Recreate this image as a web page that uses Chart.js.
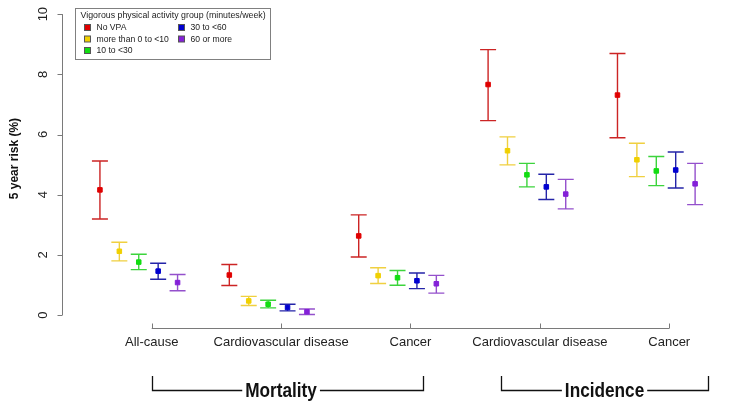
<!DOCTYPE html>
<html>
<head>
<meta charset="utf-8">
<script src="https://cdn.jsdelivr.net/npm/chart.js@4.4.1/dist/chart.umd.min.js"></script>
<style>
  html, body { margin: 0; padding: 0; background: #fff; }
  #wrap { width: 735px; height: 406px; }
</style>
</head>
<body>
<div id="wrap"><canvas id="risk-chart" width="735" height="406"></canvas></div>
<script>
// outcomes along the x axis
const outcomes = ['All-cause', 'Cardiovascular disease', 'Cancer', 'Cardiovascular disease', 'Cancer'];
const outcomeGroups = ['Mortality', 'Incidence'];
const groupLabels = ['No VPA', 'more than 0 to <10', '10 to <30', '30 to <60', '60 or more'];
const yTicks = [0, 2, 4, 6, 8, 10];

// 5 year risk (%) per activity group, one value per outcome
const noVpaRisk = [4.16, 1.33, 2.63, 7.66, 7.31];
const noVpaLower = [3.19, 0.98, 1.93, 6.46, 5.89];
const noVpaUpper = [5.12, 1.68, 3.33, 8.82, 8.69];

const under10Risk = [2.12, 0.47, 1.31, 5.46, 5.16];
const under10Lower = [1.80, 0.32, 1.05, 4.99, 4.60];
const under10Upper = [2.42, 0.62, 1.57, 5.92, 5.71];

const from10to30Risk = [1.76, 0.36, 1.24, 4.66, 4.79];
const from10to30Lower = [1.51, 0.24, 0.99, 4.26, 4.30];
const from10to30Upper = [2.02, 0.49, 1.48, 5.04, 5.27];

const from30to60Risk = [1.46, 0.25, 1.14, 4.26, 4.82];
const from30to60Lower = [1.19, 0.14, 0.88, 3.84, 4.22];
const from30to60Upper = [1.72, 0.36, 1.40, 4.68, 5.42];

const over60Risk = [1.08, 0.11, 1.04, 4.02, 4.36];
const over60Lower = [0.81, 0.02, 0.73, 3.53, 3.67];
const over60Upper = [1.35, 0.20, 1.32, 4.51, 5.04];

const riskSeries = [noVpaRisk, under10Risk, from10to30Risk, from30to60Risk, over60Risk];
const lowerSeries = [noVpaLower, under10Lower, from10to30Lower, from30to60Lower, over60Lower];
const upperSeries = [noVpaUpper, under10Upper, from10to30Upper, from30to60Upper, over60Upper];

// point colour, whisker colour
const pointColors = ['#e00000', '#f0d000', '#12dd12', '#0000d0', '#8420d8'];
const whiskerColors = ['#cc2424', '#f0d040', '#3cd43c', '#2424a8', '#9450cc'];

const FONT = '"Liberation Sans", Arial, sans-serif';

// each group sits a little left of the outcome tick, spread out
function xPos(outcomeIdx, groupIdx) {
    return outcomeIdx + 1 - 0.1 + (groupIdx - 2) * 0.15;
}

const datasets = riskSeries.map((vals, g) => ({
    label: groupLabels[g],
    data: vals.map((v, i) => ({ x: xPos(i, g), y: v, lo: lowerSeries[g][i], hi: upperSeries[g][i] })),
    backgroundColor: pointColors[g],
    borderColor: pointColors[g],
    borderWidth: 1,
    pointStyle: 'rect',
    pointRadius: 3.2,
    pointHoverRadius: 3.2,
    showLine: false
}));

// whiskers with caps, drawn under the points
const errorBars = {
    id: 'errorBars',
    beforeDatasetsDraw(chart) {
        const ctx = chart.ctx;
        const xs = chart.scales.x, ys = chart.scales.y;
        ctx.save();
        ctx.lineWidth = 1.4;
        chart.data.datasets.forEach((ds, g) => {
            ctx.strokeStyle = whiskerColors[g];
            ds.data.forEach(p => {
                const px = xs.getPixelForValue(p.x);
                const top = ys.getPixelForValue(p.hi);
                const bot = ys.getPixelForValue(p.lo);
                ctx.beginPath();
                ctx.moveTo(px, top); ctx.lineTo(px, bot);
                ctx.moveTo(px - 8, top); ctx.lineTo(px + 8, top);
                ctx.moveTo(px - 8, bot); ctx.lineTo(px + 8, bot);
                ctx.stroke();
            });
        });
        ctx.restore();
    }
};

// R style axes, outcome brackets and legend box
const baseAxes = {
    id: 'baseAxes',
    afterDraw(chart) {
        const ctx = chart.ctx;
        const xs = chart.scales.x, ys = chart.scales.y;
        const area = chart.chartArea;
        ctx.save();

        // y axis
        ctx.strokeStyle = '#7a7a7a';
        ctx.lineWidth = 1;
        const ax = Math.round(area.left) + 0.5;
        ctx.beginPath();
        ctx.moveTo(ax, ys.getPixelForValue(yTicks[0]));
        ctx.lineTo(ax, ys.getPixelForValue(yTicks[yTicks.length - 1]));
        yTicks.forEach(t => {
            const py = Math.round(ys.getPixelForValue(t)) + 0.5;
            ctx.moveTo(ax, py); ctx.lineTo(ax - 5, py);
        });
        ctx.stroke();
        ctx.fillStyle = '#222';
        ctx.font = '13px ' + FONT;
        ctx.textAlign = 'center';
        ctx.textBaseline = 'middle';
        yTicks.forEach(t => {
            ctx.save();
            ctx.translate(ax - 19, ys.getPixelForValue(t));
            ctx.rotate(-Math.PI / 2);
            ctx.fillText(String(t), 0, 0);
            ctx.restore();
        });
        ctx.save();
        ctx.translate(15, ys.getPixelForValue(5.2));
        ctx.rotate(-Math.PI / 2);
        ctx.font = 'bold 12px ' + FONT;
        ctx.fillStyle = '#111';
        ctx.fillText('5 year risk (%)', 0, 0);
        ctx.restore();

        // x axis
        const ay = Math.round(area.bottom) + 0.5;
        ctx.beginPath();
        ctx.moveTo(xs.getPixelForValue(1), ay);
        ctx.lineTo(xs.getPixelForValue(outcomes.length), ay);
        outcomes.forEach((o, i) => {
            const px = Math.round(xs.getPixelForValue(i + 1)) + 0.5;
            ctx.moveTo(px, ay); ctx.lineTo(px, ay - 5);
        });
        ctx.stroke();
        ctx.font = '13px ' + FONT;
        outcomes.forEach((o, i) => {
            ctx.fillText(o, xs.getPixelForValue(i + 1), ay + 14);
        });

        // brackets under the outcome labels (text squeezed a bit, like a narrow face)
        const spans = [[1, 3.1, 2.0], [3.7, 5.3, 4.5]];
        const squeeze = 0.86;
        ctx.strokeStyle = '#111';
        ctx.lineWidth = 1.3;
        ctx.font = 'bold 20px ' + FONT;
        ctx.fillStyle = '#111';
        spans.forEach((s, k) => {
            const x1 = Math.round(xs.getPixelForValue(s[0])) + 0.5;
            const x2 = Math.round(xs.getPixelForValue(s[1])) + 0.5;
            const xc = xs.getPixelForValue(s[2]);
            const by = 390.5, bt = 376;
            const w = ctx.measureText(outcomeGroups[k]).width * squeeze / 2 + 3;
            ctx.beginPath();
            ctx.moveTo(x1, bt); ctx.lineTo(x1, by); ctx.lineTo(xc - w, by);
            ctx.moveTo(xc + w, by); ctx.lineTo(x2, by); ctx.lineTo(x2, bt);
            ctx.stroke();
            ctx.save();
            ctx.translate(xc, by + 1);
            ctx.scale(squeeze, 1);
            ctx.fillText(outcomeGroups[k], 0, 0);
            ctx.restore();
        });

        // legend
        ctx.strokeStyle = '#808080';
        ctx.lineWidth = 1;
        ctx.strokeRect(75.5, 8.5, 195, 51);
        ctx.textAlign = 'left';
        ctx.font = '8.8px ' + FONT;
        ctx.fillStyle = '#222';
        ctx.fillText('Vigorous physical activity group (minutes/week)', 80.5, 15.5);
        const cols = [87.5, 181.5], rows = [27.5, 39, 50.5];
        chart.data.datasets.forEach((ds, g) => {
            const cx = cols[Math.floor(g / 3)], cy = rows[g % 3];
            ctx.fillStyle = pointColors[g];
            ctx.fillRect(cx - 3, cy - 3, 6, 6);
            ctx.strokeStyle = '#555';
            ctx.strokeRect(cx - 3, cy - 3, 6, 6);
            ctx.fillStyle = '#222';
            ctx.font = '8.6px ' + FONT;
            ctx.fillText(ds.label, cx + 9, cy + 0.5);
        });
        ctx.restore();
    }
};

new Chart(document.getElementById('risk-chart').getContext('2d'), {
    type: 'scatter',
    data: { datasets: datasets },
    options: {
        responsive: false,
        animation: false,
        layout: { padding: { left: 62, top: 3, right: 10, bottom: 78 } },
        scales: {
            x: { type: 'linear', min: 0.3068, max: 5.431, display: false },
            y: { type: 'linear', min: -0.43, max: 10.33, display: false }
        },
        plugins: {
            legend: { display: false },
            tooltip: { enabled: false }
        }
    },
    plugins: [errorBars, baseAxes]
});
</script>
</body>
</html>
